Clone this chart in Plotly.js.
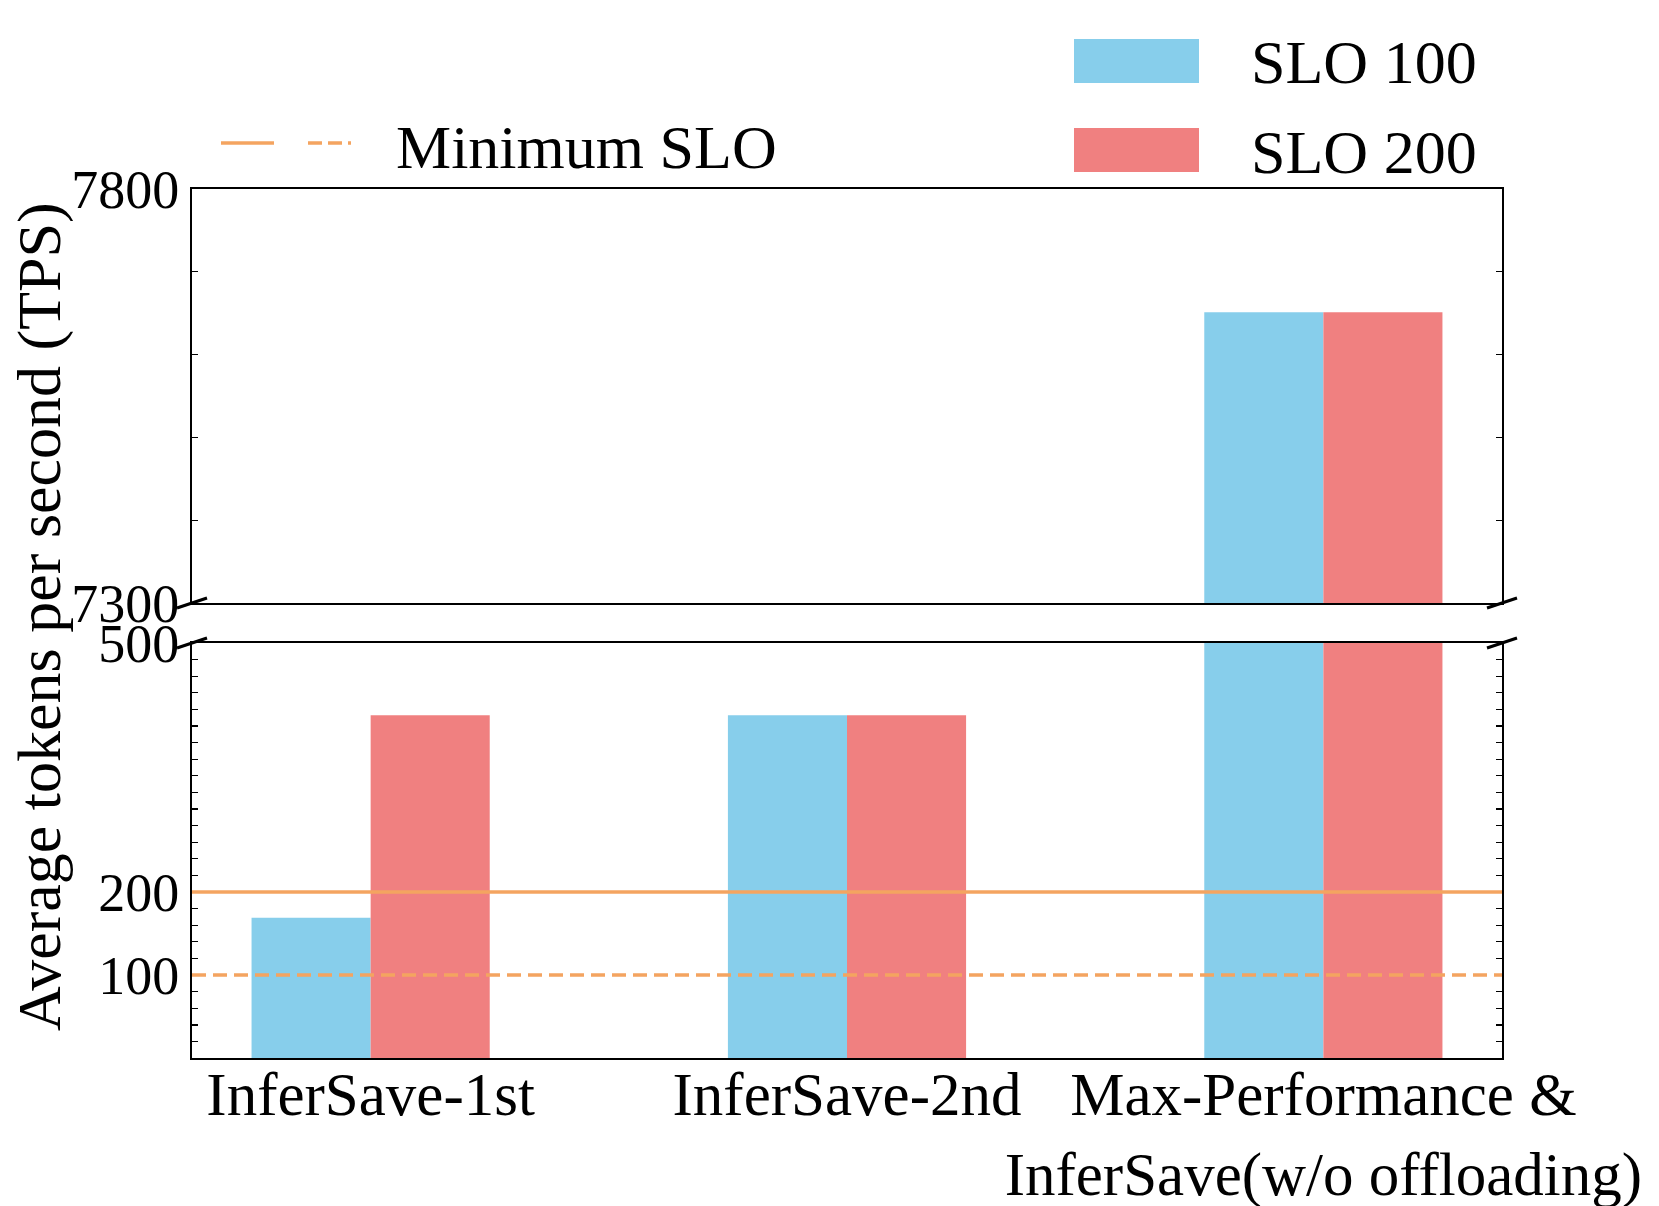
<!DOCTYPE html>
<html>
<head>
<meta charset="utf-8">
<script src="https://cdn.plot.ly/plotly-3.0.1.min.js"></script>
<style>html,body{margin:0;padding:0;background:#fff;}#chart{width:1659px;height:1206px;}</style>
</head>
<body>
<div id="chart"></div>
<script>
// ---- data ----
const categories = ["InferSave-1st", "InferSave-2nd", "Max-Performance &<br>InferSave(w/o offloading)"];
const seriesNames = ["SLO 100", "SLO 200"];
const slo100 = [169, 413, 7651];
const slo200 = [413, 413, 7651];
const sloLevels = [200, 100];          // solid, dashed
const topTickVals = [7300, 7800];
const bottomTickVals = [100, 200, 500];
const topRange = [7300, 7800];
const bottomRange = [0, 500];

// ---- layout helpers (pixel -> paper) ----
const W = 1659, H = 1206;
const L = 192, R = 1502, T = 189, B = 1058;
const px = x => (x - L) / (R - L);
const py = y => (B - y) / (B - T);

const blue = "#87CEEB", red = "#F08080", orange = "#F4A460";
const FONT = "Liberation Serif, Times New Roman, serif";

const traces = [];
[["x", "y"], ["x2", "y2"]].forEach(([xa, ya]) => {
  traces.push({type: "bar", x: categories, y: slo100, name: seriesNames[0], xaxis: xa, yaxis: ya,
    marker: {color: blue, line: {width: 0}}, showlegend: false, hoverinfo: "skip"});
  traces.push({type: "bar", x: categories, y: slo200, name: seriesNames[1], xaxis: xa, yaxis: ya,
    marker: {color: red, line: {width: 0}}, showlegend: false, hoverinfo: "skip"});
});

const topDomain = [py(603), 1];
const botDomain = [0, py(643)];

const axisCommon = {showline: true, linecolor: "#000", linewidth: 2, mirror: "ticks",
  ticks: "inside", ticklen: 8, tickwidth: 1.6, tickcolor: "#000", showgrid: false, zeroline: false};

const shapes = [];
// minimum SLO lines
shapes.push({type: "line", xref: "x domain", yref: "y", x0: 0, x1: 1, y0: sloLevels[0], y1: sloLevels[0],
  line: {color: orange, width: 3.5}});
shapes.push({type: "line", xref: "x domain", yref: "y", x0: 0, x1: 1, y0: sloLevels[1], y1: sloLevels[1],
  line: {color: orange, width: 3.5, dash: "14px,7px"}});
// break marks
const dx = 15 / (R - L), dy = 5 / (B - T);
[0, 1].forEach(xc => {
  [topDomain[0], botDomain[1]].forEach(yc => {
    shapes.push({type: "line", xref: "paper", yref: "paper", x0: xc - dx, x1: xc + dx, y0: yc - dy, y1: yc + dy,
      line: {color: "#000", width: 3}});
  });
});
// legend: minimum SLO
shapes.push({type: "line", xref: "paper", yref: "paper", x0: px(221), x1: px(274), y0: py(143), y1: py(143),
  line: {color: orange, width: 3.5}});
shapes.push({type: "line", xref: "paper", yref: "paper", x0: px(308), x1: px(351), y0: py(143), y1: py(143),
  line: {color: orange, width: 3.5, dash: "14px,6px"}});
// legend swatches
shapes.push({type: "rect", xref: "paper", yref: "paper", x0: px(1074), x1: px(1199), y0: py(83), y1: py(39),
  fillcolor: blue, line: {width: 0}});
shapes.push({type: "rect", xref: "paper", yref: "paper", x0: px(1074), x1: px(1199), y0: py(172), y1: py(128),
  fillcolor: red, line: {width: 0}});

const annotations = [
  {xref: "paper", yref: "paper", x: px(394), y: py(147), xanchor: "left", yanchor: "middle", showarrow: false,
    text: "Minimum SLO", font: {family: FONT, size: 62, color: "#000"}},
  {xref: "paper", yref: "paper", x: px(1249), y: py(62), xanchor: "left", yanchor: "middle", showarrow: false,
    text: seriesNames[0], font: {family: FONT, size: 62, color: "#000"}},
  {xref: "paper", yref: "paper", x: px(1249), y: py(152), xanchor: "left", yanchor: "middle", showarrow: false,
    text: seriesNames[1], font: {family: FONT, size: 62, color: "#000"}},
  {xref: "paper", yref: "paper", x: px(39), y: py(617), xanchor: "center", yanchor: "middle", showarrow: false,
    textangle: -90, text: "Average tokens per second (TPS)", font: {family: FONT, size: 62, color: "#000"}}
];

const layout = {
  width: W, height: H,
  margin: {l: L, r: W - R, t: T, b: H - B, pad: 0},
  paper_bgcolor: "#fff", plot_bgcolor: "#fff",
  font: {family: FONT, color: "#000"},
  barmode: "group", bargap: 0.5, bargroupgap: 0,
  showlegend: false,
  xaxis: Object.assign({}, axisCommon, {anchor: "y", domain: [0, 1], range: [-0.375, 2.375], ticks: "",
    tickangle: 0, automargin: false, ticklabelstandoff: -18,
    tickfont: {family: FONT, size: 61, color: "#000"}, type: "category"}),
  xaxis2: Object.assign({}, axisCommon, {anchor: "y2", domain: [0, 1], range: [-0.375, 2.375], ticks: "",
    showticklabels: false, matches: "x", type: "category"}),
  yaxis: Object.assign({}, axisCommon, {anchor: "x", domain: botDomain, range: bottomRange,
    tickvals: bottomTickVals, ticktext: bottomTickVals.map(String),
    minor: {dtick: 20, ticks: "inside", ticklen: 6, tickwidth: 1.4, tickcolor: "#000"},
    tickfont: {family: FONT, size: 54, color: "#000"}}),
  yaxis2: Object.assign({}, axisCommon, {anchor: "x2", domain: topDomain, range: topRange,
    tickvals: topTickVals, ticktext: topTickVals.map(String),
    minor: {dtick: 100, ticks: "inside", ticklen: 6, tickwidth: 1.4, tickcolor: "#000"},
    tickfont: {family: FONT, size: 54, color: "#000"}}),
  shapes: shapes,
  annotations: annotations
};

Plotly.newPlot("chart", traces, layout, {staticPlot: true, displayModeBar: false});
</script>
</body>
</html>
